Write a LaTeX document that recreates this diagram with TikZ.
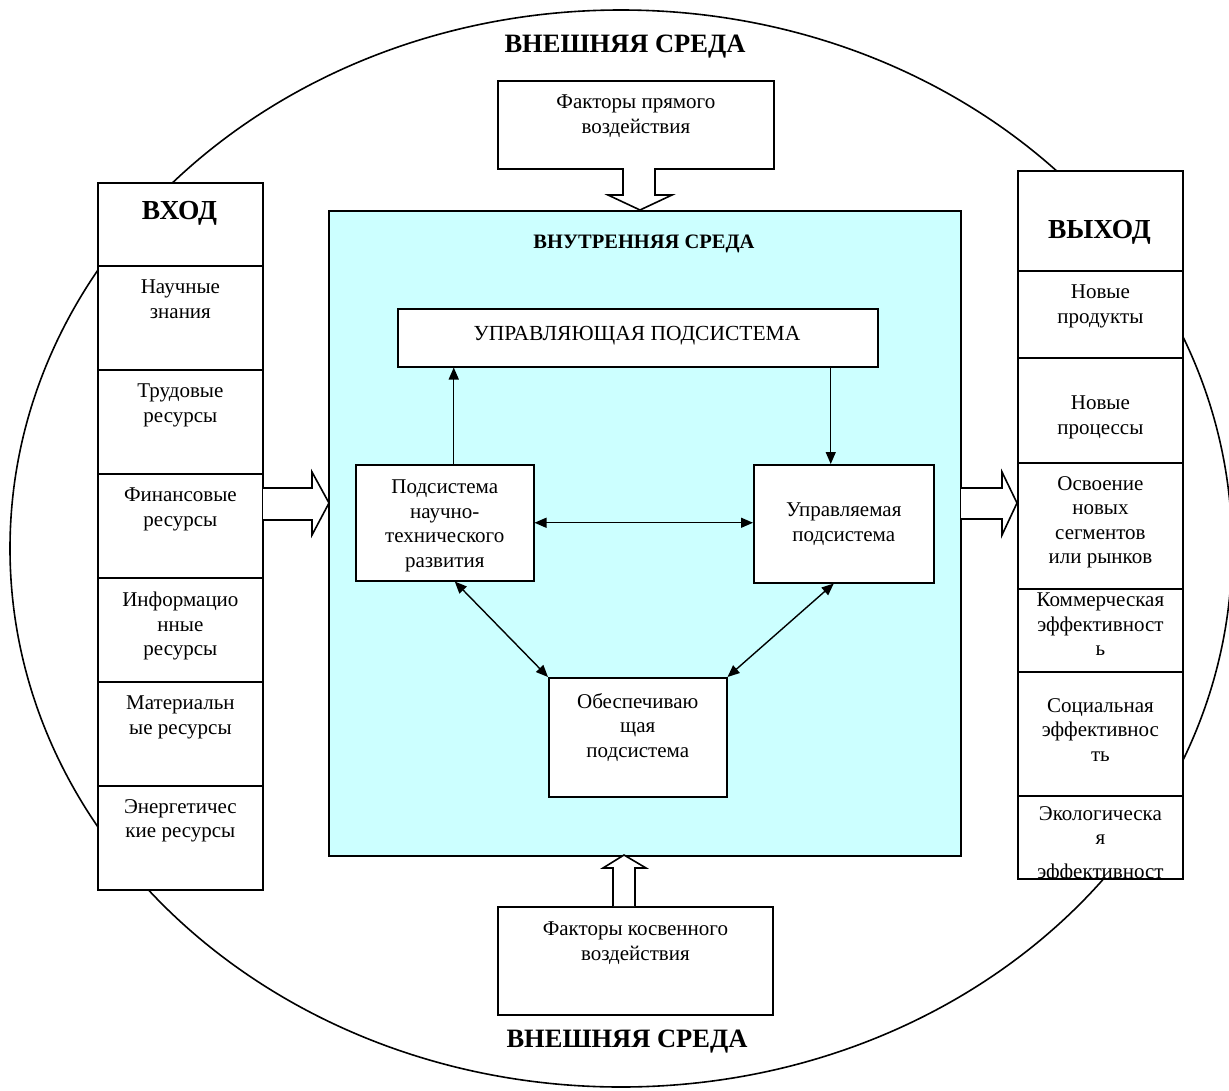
\documentclass[tikz,border=0pt]{standalone}
\usepackage{fontspec}
\setmainfont{Liberation Serif}
\usetikzlibrary{calc,arrows.meta}
\definecolor{innercyan}{RGB}{204,255,255}
\begin{document}
\begin{tikzpicture}[x=1pt,y=-1pt,
  box/.style={draw, line width=1.8, fill=white, inner sep=0, anchor=north west},
  ibox/.style={draw, line width=1.5, fill=white, inner sep=0, anchor=north west},
  txt/.style={inner sep=0, align=center, font=\fontsize{21}{24.5}\selectfont, anchor=north, execute at begin node=\strut},
  ttl/.style={inner sep=0, font=\bfseries\fontsize{27.5}{30}\selectfont, anchor=base},
  arr/.style={line width=1.4, -{Triangle[length=12pt,width=10pt]}},
  darr/.style={line width=1.4, {Triangle[length=12pt,width=10pt]}-{Triangle[length=12pt,width=10pt]}},
  blk/.style={draw, line width=1.6, fill=white, line join=miter}
]
\useasboundingbox (0,0) rectangle (1229,1090);

% outer environment
\draw[line width=1.6] (621,548.5) ellipse [x radius=611, y radius=538.5];
\node[ttl, font=\bfseries\fontsize{26.5}{30}\selectfont] (extop) at (625,52) {ВНЕШНЯЯ СРЕДА};
\node[ttl, font=\bfseries\fontsize{26.5}{30}\selectfont] (extbot) at (627,1047) {ВНЕШНЯЯ СРЕДА};

% direct / indirect factors
\node[box, minimum width=276, minimum height=88] (dir) at (497,80) {};
\node[txt] (dirt) at ($(dir.north)+(0,15)$) {Факторы прямого\\воздействия};
\node[box, minimum width=275, minimum height=108] (ind) at (497,906) {};
\node[txt] (indt) at ($(ind.north)+(0,16)$) {Факторы косвенного\\воздействия};

% internal environment
\node[draw, line width=1.8, fill=innercyan, inner sep=0, anchor=north west, minimum width=632, minimum height=645] (inner) at (328,210) {};
\node[inner sep=0, anchor=base, font=\bfseries\fontsize{20.5}{24}\selectfont] (innert) at (644,248) {ВНУТРЕННЯЯ СРЕДА};

\node[ibox, minimum width=480, minimum height=58] (up) at (397,308) {};
\node[inner sep=0, anchor=base, font=\fontsize{21.5}{24}\selectfont] (upt) at (637,340) {УПРАВЛЯЮЩАЯ ПОДСИСТЕМА};

\node[ibox, minimum width=178, minimum height=116] (pnt) at (355,464) {};
\node[txt] (pntt) at ($(pnt.north)+(0,16)$) {Подсистема\\научно-\\технического\\развития};
\node[ibox, minimum width=180, minimum height=118] (ctrl) at (753,464) {};
\node[txt] (ctrlt) at ($(ctrl.north)+(0,39)$) {Управляемая\\подсистема};
\node[ibox, minimum width=178, minimum height=119] (sup) at (548,677) {};
\node[txt] (supt) at ($(sup.north)+(0,16)$) {Обеспечиваю\\щая\\подсистема};

% internal connectors
\draw[arr] ([xshift=9]pnt.north) -- ([xshift=9]pnt.north |- up.south);
\draw[arr] ([xshift=-13]ctrl.north |- up.south) -- ([xshift=-13]ctrl.north);
\draw[darr] (pnt.east) -- (pnt.east -| ctrl.west);
\draw[darr] ([xshift=10]pnt.south) -- (sup.north west);
\draw[darr] ([xshift=-10]ctrl.south) -- (sup.north east);

% input column
\node[box, minimum width=165, minimum height=83] (in0) at (97,182) {};
\node[ttl] (in0t) at (179.5,219) {ВХОД};
\node[box, minimum width=165, minimum height=104] (in1) at (97,265) {};
\node[txt] (in1t) at ($(in1.north)+(0,15)$) {Научные\\знания};
\node[box, minimum width=165, minimum height=104] (in2) at (97,369) {};
\node[txt] (in2t) at ($(in2.north)+(0,15)$) {Трудовые\\ресурсы};
\node[box, minimum width=165, minimum height=104] (in3) at (97,473) {};
\node[txt] (in3t) at ($(in3.north)+(0,15)$) {Финансовые\\ресурсы};
\node[box, minimum width=165, minimum height=104] (in4) at (97,577) {};
\node[txt] (in4t) at ($(in4.north)+(0,15)$) {Информацио\\нные\\ресурсы};
\node[box, minimum width=165, minimum height=104] (in5) at (97,681) {};
\node[txt] (in5t) at ($(in5.north)+(0,15)$) {Материальн\\ые ресурсы};
\node[box, minimum width=165, minimum height=104] (in6) at (97,785) {};
\node[txt] (in6t) at ($(in6.north)+(0,14)$) {Энергетичес\\кие ресурсы};

% output column
\node[box, minimum width=165, minimum height=100] (out0) at (1017,170) {};
\node[ttl] (out0t) at (1099.5,238) {ВЫХОД};
\node[box, minimum width=165, minimum height=87] (out1) at (1017,270) {};
\node[txt] (out1t) at ($(out1.north)+(0,15)$) {Новые\\продукты};
\node[box, minimum width=165, minimum height=105] (out2) at (1017,357) {};
\node[txt] (out2t) at ($(out2.north)+(0,39)$) {Новые\\процессы};
\node[box, minimum width=165, minimum height=126] (out3) at (1017,462) {};
\node[txt] (out3t) at ($(out3.north)+(0,14)$) {Освоение\\новых\\сегментов\\или рынков};
\node[box, minimum width=165, minimum height=83] (out4) at (1017,588) {};
\node[txt] (out4t) at ($(out4.north)+(0,5)$) {Коммерческая\\эффективност\\ь};
\node[box, minimum width=165, minimum height=124] (out5) at (1017,671) {};
\node[txt] (out5t) at ($(out5.north)+(0,27)$) {Социальная\\эффективнос\\ть};
\node[box, minimum width=165, minimum height=83] (out6) at (1017,795) {};
\begin{scope}
\clip (1018,796) rectangle (1181,877);
\node[txt] (out6t) at ($(out6.north)+(0,11)$) {Экологическа\\я\\[9pt]эффективност};
\end{scope}

% block arrows
\draw[blk] (623,168) -- (623,195) -- (608,195) -- (640,210) -- (672,195) -- (655,195) -- (655,168);
\draw[blk] (613,906) -- (613,868) -- (603,868) -- (624,855) -- (646,868) -- (635,868) -- (635,906);
\draw[blk] (263,488) -- (312,488) -- (312,472) -- (329,503) -- (312,535) -- (312,520) -- (263,520);
\draw[blk] (961,488) -- (1002,488) -- (1002,472) -- (1017,503) -- (1002,535) -- (1002,519) -- (961,519);
\end{tikzpicture}
\end{document}
